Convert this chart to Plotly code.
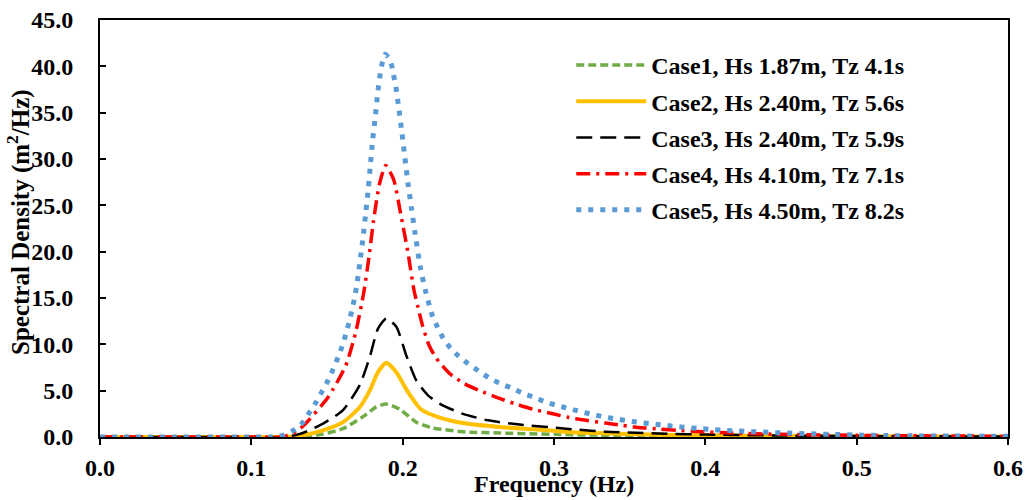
import plotly.graph_objects as go

# ---- data ----
case_names = [
    "Case1, Hs 1.87m, Tz 4.1s",
    "Case2, Hs 2.40m, Tz 5.6s",
    "Case3, Hs 2.40m, Tz 5.9s",
    "Case4, Hs 4.10m, Tz 7.1s",
    "Case5, Hs 4.50m, Tz 8.2s",
]

f1 = [0.0, 0.05, 0.10, 0.12, 0.1452, 0.1606, 0.1738, 0.1826, 0.1892, 0.198, 0.209, 0.22, 0.2244,
      0.242, 0.264, 0.3014, 0.33, 0.40, 0.50, 0.60]
s1 = [0.0, 0.0, 0.0, 0.0, 0.26, 0.9, 2.2, 3.25, 3.55, 3.0, 1.6, 0.95, 0.85,
      0.54, 0.43, 0.29, 0.2, 0.1, 0.05, 0.02]

f2 = [0.0, 0.05, 0.10, 0.12, 0.125, 0.134, 0.1474, 0.1606, 0.1716, 0.1782, 0.1837, 0.1892, 0.1958,
      0.2035, 0.212, 0.2244, 0.242, 0.264, 0.286, 0.3014, 0.312, 0.356, 0.40, 0.45, 0.50, 0.60]
s2 = [0.0, 0.0, 0.0, 0.0, 0.02, 0.18, 0.72, 1.6, 3.2, 5.0, 7.0, 8.0, 7.0,
      4.85, 3.0, 2.1, 1.45, 1.08, 0.83, 0.65, 0.5, 0.29, 0.18, 0.11, 0.07, 0.03]

f3 = [0.0, 0.05, 0.10, 0.123, 0.134, 0.1474, 0.1606, 0.1716, 0.1782, 0.1837, 0.1892, 0.1958, 0.2024,
      0.209, 0.2167, 0.2255, 0.2398, 0.2563, 0.2772, 0.3014, 0.3146, 0.334, 0.354, 0.374, 0.40,
      0.45, 0.50, 0.55, 0.60]
s3 = [0.0, 0.0, 0.0, 0.0, 0.43, 1.45, 2.9, 5.6, 8.6, 11.7, 12.8, 11.9, 8.8,
      6.1, 4.5, 3.5, 2.5, 1.8, 1.34, 1.0, 0.8, 0.58, 0.45, 0.35, 0.26,
      0.16, 0.1, 0.07, 0.05]

f4 = [0.0, 0.05, 0.10, 0.12, 0.1276, 0.1347, 0.1507, 0.1624, 0.1694, 0.1743, 0.1778, 0.1808, 0.1848,
      0.1888, 0.1941, 0.1989, 0.2035, 0.2073, 0.2101, 0.213, 0.2174, 0.2222, 0.231, 0.2403, 0.2508,
      0.2625, 0.274, 0.286, 0.2992, 0.31, 0.321, 0.334, 0.345, 0.358, 0.37, 0.382, 0.394, 0.418,
      0.44, 0.46, 0.50, 0.55, 0.60]
s4 = [0.0, 0.0, 0.0, 0.0, 0.37, 1.26, 4.3, 7.7, 11.6, 15.6, 19.5, 23.4, 27.4,
      29.3, 27.75, 23.9, 19.9, 16.0, 14.0, 12.1, 9.9, 8.5, 6.85, 5.8, 5.0,
      4.25, 3.6, 3.0, 2.5, 2.1, 1.8, 1.5, 1.26, 1.0, 0.86, 0.72, 0.6, 0.42,
      0.32, 0.26, 0.18, 0.12, 0.08]

f5 = [0.0, 0.05, 0.10, 0.113, 0.121, 0.1287, 0.1342, 0.1386, 0.143, 0.147, 0.1507, 0.154, 0.1573,
      0.16, 0.1624, 0.1646, 0.1663, 0.1681, 0.1696, 0.1707, 0.1718, 0.1738, 0.1756, 0.1773, 0.1787,
      0.1802, 0.182, 0.1837, 0.186, 0.1885, 0.1921, 0.1938, 0.1954, 0.1976, 0.1996, 0.2015, 0.2035,
      0.2057, 0.208, 0.2117, 0.2152, 0.2196, 0.2229, 0.2266, 0.2315, 0.2372, 0.2433, 0.2504, 0.257,
      0.264, 0.2717, 0.279, 0.2865, 0.2942, 0.3018, 0.3098, 0.3175, 0.3252, 0.3333, 0.3413, 0.3494,
      0.3573, 0.3653, 0.3734, 0.3815, 0.3894, 0.3976, 0.4057, 0.4139, 0.4219, 0.43, 0.438, 0.446,
      0.454, 0.47, 0.487, 0.503, 0.519, 0.5435, 0.568, 0.592, 0.60]
s5 = [0.0, 0.0, 0.0, 0.0, 0.18, 0.8, 1.6, 2.7, 3.8, 5.0, 6.1, 7.3, 8.6,
      9.8, 11.06, 12.4, 13.6, 14.9, 16.3, 17.6, 18.9, 21.5, 24.2, 26.8, 29.4,
      32.1, 34.7, 37.4, 40.0, 41.3, 40.5, 39.2, 37.9, 35.3, 32.7, 30.1, 27.4,
      24.8, 22.2, 18.3, 15.7, 13.1, 11.9, 10.7, 9.6, 8.7, 7.9, 7.1, 6.4,
      5.8, 5.3, 4.75, 4.3, 3.8, 3.4, 3.07, 2.74, 2.45, 2.16, 1.94, 1.73,
      1.55, 1.4, 1.26, 1.12, 1.0, 0.9, 0.8, 0.72, 0.65, 0.58, 0.54, 0.47,
      0.42, 0.34, 0.27, 0.2, 0.16, 0.12, 0.1, 0.08, 0.07]

freqs = [f1, f2, f3, f4, f5]
specs = [s1, s2, s3, s4, s5]

x_ticks = [0.0, 0.1, 0.2, 0.3, 0.4, 0.5, 0.6]
y_ticks = [0, 5, 10, 15, 20, 25, 30, 35, 40, 45]
x_title = "Frequency (Hz)"
y_title = "Spectral Density (m<sup>2</sup>/Hz)"

colors = ["#70AD47", "#FFC000", "#000000", "#FF0000", "#5B9BD5"]
widths = [3.5, 4, 2.5, 3.5, 5]
dashes = ["8px,4px", "solid", "16px,8px", "14px,6px,3px,6px", "5px,7px"]

FONT = "Liberation Serif, Times New Roman, serif"

fig = go.Figure()
for i in range(5):
    fig.add_trace(go.Scatter(
        x=freqs[i], y=specs[i], mode="lines", name=case_names[i],
        line=dict(color=colors[i], width=widths[i], dash=dashes[i], shape="spline", smoothing=0.6),
        legendgroup=str(i),
    ))

fig.update_layout(
    width=1025, height=500,
    margin=dict(l=100, r=17, t=20, b=63),
    plot_bgcolor="white", paper_bgcolor="white",
    font=dict(family=FONT, size=24, color="black"),
    showlegend=True,
    legend=dict(
        x=0.519, y=0.945, xanchor="left", yanchor="top",
        font=dict(family=FONT, size=24, color="black", weight="bold"),
        bgcolor="rgba(0,0,0,0)", itemwidth=70,
        tracegroupgap=2, traceorder="grouped",
    ),
    xaxis=dict(
        range=[0, 0.6], tickvals=x_ticks, ticktext=[f"{v:.1f}" for v in x_ticks],
        showgrid=False, zeroline=False, automargin=False,
        showline=True, linecolor="black", linewidth=2, mirror=True,
        ticks="outside", ticklen=6, tickwidth=1.5, tickcolor="black",
        tickfont=dict(family=FONT, size=24, weight="bold"),
        ticklabelstandoff=2,
        layer="below traces",
    ),
    yaxis=dict(
        range=[0, 45], tickvals=y_ticks, ticktext=[f"{v:.1f}" for v in y_ticks],
        showgrid=False, zeroline=False, automargin=False,
        showline=True, linecolor="black", linewidth=2, mirror=True,
        ticks="inside", ticklen=6, tickwidth=1.5, tickcolor="black",
        tickfont=dict(family=FONT, size=24, weight="bold"),
        ticklabelstandoff=20,
        layer="below traces",
    ),
    annotations=[
        dict(text=x_title, xref="paper", yref="paper", x=0.5, y=-0.1487,
             xanchor="center", yanchor="bottom", showarrow=False,
             font=dict(family=FONT, size=24, weight="bold", color="black")),
        dict(text=y_title, xref="paper", yref="paper", x=-0.0895, y=0.515,
             xanchor="center", yanchor="middle", showarrow=False, textangle=-90,
             font=dict(family=FONT, size=25, weight="bold", color="black")),
    ],
)

fig.write_html("out.html")
